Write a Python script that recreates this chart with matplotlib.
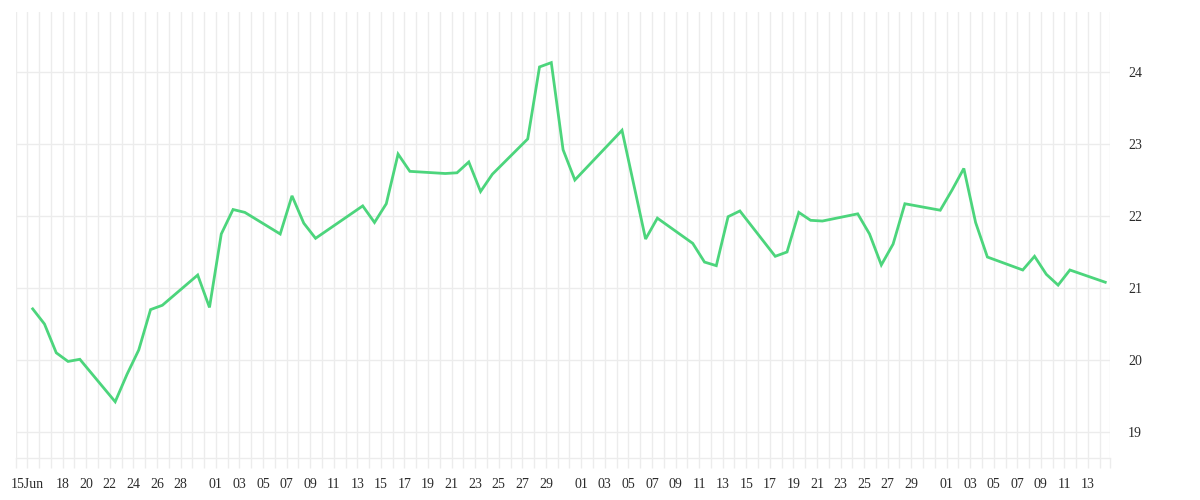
import matplotlib
matplotlib.use("Agg")
import matplotlib.pyplot as plt
import matplotlib.dates as mdates
import numpy as np
import pandas as pd

# ---- data ----
dates = ["2020-06-15", "2020-06-16", "2020-06-17", "2020-06-18", "2020-06-19",
         "2020-06-22", "2020-06-23", "2020-06-24", "2020-06-25", "2020-06-26",
         "2020-06-29", "2020-06-30", "2020-07-01", "2020-07-02", "2020-07-03",
         "2020-07-06", "2020-07-07", "2020-07-08", "2020-07-09", "2020-07-13",
         "2020-07-14", "2020-07-15", "2020-07-16", "2020-07-17", "2020-07-20",
         "2020-07-21", "2020-07-22", "2020-07-23", "2020-07-24", "2020-07-27",
         "2020-07-28", "2020-07-29", "2020-07-30", "2020-07-31", "2020-08-04",
         "2020-08-06", "2020-08-07", "2020-08-10", "2020-08-11", "2020-08-12",
         "2020-08-13", "2020-08-14", "2020-08-17", "2020-08-18", "2020-08-19",
         "2020-08-20", "2020-08-21", "2020-08-24", "2020-08-25", "2020-08-26",
         "2020-08-27", "2020-08-28", "2020-08-31", "2020-09-01", "2020-09-02",
         "2020-09-03", "2020-09-04", "2020-09-07", "2020-09-08", "2020-09-09",
         "2020-09-10", "2020-09-11", "2020-09-14"]
values = [20.71, 20.50, 20.10, 19.98, 20.01,
          19.42, 19.80, 20.14, 20.70, 20.76,
          21.18, 20.73, 21.75, 22.09, 22.05,
          21.75, 22.28, 21.90, 21.69, 22.14,
          21.91, 22.17, 22.86, 22.62, 22.59,
          22.60, 22.75, 22.34, 22.58, 23.07,
          24.07, 24.13, 22.92, 22.50, 23.19,
          21.68, 21.97, 21.62, 21.36, 21.31,
          21.99, 22.07, 21.44, 21.50, 22.05,
          21.94, 21.93, 22.03, 21.75, 21.32,
          21.61, 22.17, 22.08, 22.36, 22.66,
          21.91, 21.43, 21.25, 21.44, 21.19,
          21.04, 21.25, 21.08]
sample_time = "11:00"

tick_dates = ["2020-06-15", "2020-06-18", "2020-06-20", "2020-06-22", "2020-06-24",
              "2020-06-26", "2020-06-28",
              "2020-07-01", "2020-07-03", "2020-07-05", "2020-07-07", "2020-07-09",
              "2020-07-11", "2020-07-13", "2020-07-15", "2020-07-17", "2020-07-19",
              "2020-07-21", "2020-07-23", "2020-07-25", "2020-07-27", "2020-07-29",
              "2020-08-01", "2020-08-03", "2020-08-05", "2020-08-07", "2020-08-09",
              "2020-08-11", "2020-08-13", "2020-08-15", "2020-08-17", "2020-08-19",
              "2020-08-21", "2020-08-23", "2020-08-25", "2020-08-27", "2020-08-29",
              "2020-09-01", "2020-09-03", "2020-09-05", "2020-09-07", "2020-09-09",
              "2020-09-11", "2020-09-13"]
tick_labels = ["15Jun", "18", "20", "22", "24", "26", "28",
               "01", "03", "05", "07", "09", "11", "13", "15", "17", "19",
               "21", "23", "25", "27", "29",
               "01", "03", "05", "07", "09", "11", "13", "15", "17", "19",
               "21", "23", "25", "27", "29",
               "01", "03", "05", "07", "09", "11", "13"]
y_ticks = [19, 20, 21, 22, 23, 24]
y_tick_labels = ["19", "20", "21", "22", "23", "24"]

# ---- style ----
line_color = "#4cd57c"
grid_color = "#ececec"
text_color = "#2b2b2b"
plt.rcParams['font.family'] = ['Liberation Serif', 'DejaVu Serif']

fig = plt.figure(figsize=(12, 5), dpi=100)
ax = fig.add_axes([15.5 / 1200, 42 / 500, (1110 - 15.5) / 1200, (458 - 12) / 500])

x = mdates.date2num(pd.to_datetime([d + " " + sample_time for d in dates]))
ax.plot(x, values, color=line_color, lw=2.0, solid_joinstyle='miter', zorder=3)

x0 = mdates.date2num(pd.Timestamp("2020-06-14"))
x1 = mdates.date2num(pd.Timestamp("2020-09-14 20:40"))
ax.set_xlim(x0, x1)
ax.set_ylim(18.639, 24.833)

# daily grid lines / ticks (plus axis end)
all_days = pd.date_range("2020-06-14", "2020-09-14", freq="D")
day_nums = list(mdates.date2num(all_days)) + [x1]
lab_map = dict(zip(tick_dates, tick_labels))
labels = [lab_map.get(d.strftime("%Y-%m-%d"), "") for d in all_days] + [""]
ax.set_xticks(day_nums)
ax.set_xticklabels(labels)
ax.grid(True, axis='x', color=grid_color, lw=1)
ax.tick_params(axis='x', direction='out', length=7.2, width=1, color=grid_color,
               pad=7.5, labelsize=10, labelcolor=text_color)

ax.yaxis.tick_right()
ax.set_yticks(y_ticks)
ax.set_yticklabels(y_tick_labels)
ax.grid(True, axis='y', color=grid_color, lw=1)
ax.tick_params(axis='y', length=0, pad=13, labelsize=10, labelcolor=text_color)

for s in ['top', 'left', 'right']:
    ax.spines[s].set_visible(False)
ax.spines['bottom'].set_color(grid_color)
ax.spines['bottom'].set_linewidth(1)
ax.set_axisbelow(True)

fig.savefig("out.png", dpi=100)
